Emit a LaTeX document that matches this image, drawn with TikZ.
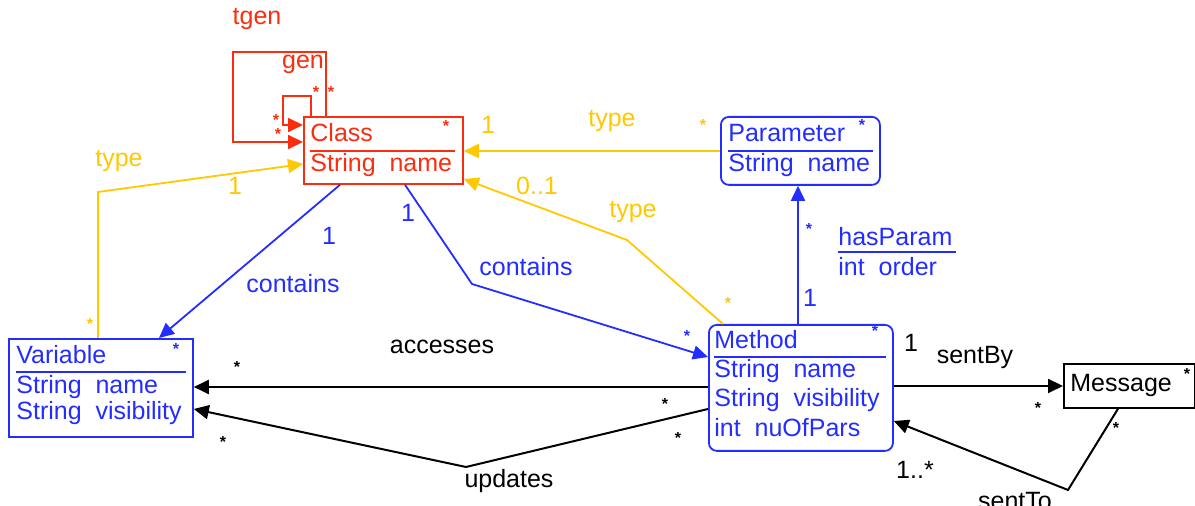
\documentclass[tikz,border=0pt]{standalone}
\usepackage{fontspec}
\setmainfont{Liberation Sans}
\usetikzlibrary{arrows.meta,positioning,calc}
\definecolor{umlred}{RGB}{250,45,15}
\definecolor{umlblue}{RGB}{35,45,255}
\definecolor{umlgold}{RGB}{255,200,0}
\tikzset{
  umlbox/.style={
    draw,
    line width=0.9pt,
    anchor=north west,
    inner sep=0pt
  },
  umltext/.style={anchor=base west,inner sep=0pt},
  umllabel/.style={inner sep=0pt},
  umlstar/.style={anchor=north,inner sep=0pt,font=\fontsize{8}{8}\bfseries},
  umlarrow/.style={-{Triangle[length=7.5pt,width=7pt]},line width=0.9pt}
}

\begin{document}
\begin{tikzpicture}[x=0.5pt,y=-0.5pt,font=\fontsize{12.5}{15}\selectfont]
  \useasboundingbox (0,0) rectangle (1195,506);

  % class boxes
  \node[umlbox,draw=umlred,minimum width=79.5pt,minimum height=33.5pt] (class) at (303,116) {};
  \node[umlbox,draw=umlblue,rounded corners=4pt,minimum width=79.5pt,minimum height=34pt] (param) at (720,116) {};
  \node[umlbox,draw=umlblue,minimum width=92pt,minimum height=49pt] (var) at (8,338) {};
  \node[umlbox,draw=umlblue,rounded corners=4pt,minimum width=92pt,minimum height=63pt] (method) at (708,324) {};
  \node[umlbox,draw=black,minimum width=65.5pt,minimum height=22pt] (message) at (1063,363) {};

  % class contents
  \node[umltext,text=umlred] (classname) at (310,142) {Class};
  \node[umltext,text=umlred] (classattr) at (310,172) {String~~name};
  \draw[umlred,line width=0.9pt] (310,151) -- (455,151);
  \node[umlstar,text=umlred] (classstar) at (446,120) {*};

  \node[umltext,text=umlblue] (paramname) at (728,142) {Parameter};
  \node[umltext,text=umlblue] (paramattr) at (728,172) {String~~name};
  \draw[umlblue,line width=0.9pt] (728,151) -- (873,151);
  \node[umlstar,text=umlblue] (paramstar) at (862,119) {*};

  \node[umltext,text=umlblue] (varname) at (16,364) {Variable};
  \node[umltext,text=umlblue] (varattra) at (16,394) {String~~name};
  \node[umltext,text=umlblue] (varattrb) at (16,420) {String~~visibility};
  \draw[umlblue,line width=0.9pt] (16,372) -- (186,372);
  \node[umlstar,text=umlblue] (varstar) at (176,343) {*};

  \node[umltext,text=umlblue] (methodname) at (714,349) {Method};
  \node[umltext,text=umlblue] (methodattra) at (714,378) {String~~name};
  \node[umltext,text=umlblue] (methodattrb) at (714,407) {String~~visibility};
  \node[umltext,text=umlblue] (methodattrc) at (714,437) {int~~nuOfPars};
  \draw[umlblue,line width=0.9pt] (714,357) -- (886,357);
  \node[umlstar,text=umlblue] (methodstar) at (875,325) {*};

  \node[umltext] (messagename) at (1070,392) {Message};
  \node[umlstar] (messagestar) at (1187,368) {*};

  % generalisation loops
  \node[umllabel,text=umlred] (tgen) at (257,19) {tgen};
  \node[umllabel,text=umlred] (gen) at (303,64) {gen};
  \draw[umlarrow,umlred] (class.north -| 326,0) |- (233,52) |- (class.west |- 0,142);
  \draw[umlarrow,umlred] (class.north -| 311,0) |- (283,96) |- (class.west |- 0,125);
  \node[umlstar,text=umlred] (gena) at (316,86) {*};
  \node[umlstar,text=umlred] (genb) at (331,86) {*};
  \node[umlstar,text=umlred] (genc) at (276,114) {*};
  \node[umlstar,text=umlred] (gend) at (278,128) {*};

  % type links
  \draw[umlarrow,umlgold] (param.west |- 0,151) -- (class.east |- 0,151);
  \node[umllabel,text=umlgold] (typea) at (612,121) {type};
  \node[umllabel,text=umlgold] (typeaone) at (488,125) {1};
  \node[umlstar,text=umlgold] (typeastar) at (703,119) {*};

  \draw[umlarrow,umlgold] (var.north -| 98,0) -- (98,192) -- (class.west |- 0,164);
  \node[umllabel,text=umlgold] (typeb) at (119,161) {type};
  \node[umllabel,text=umlgold] (typebone) at (235,186) {1};
  \node[umlstar,text=umlgold] (typebstar) at (90,318) {*};

  \draw[umlarrow,umlgold] (method.north -| 723,0) -- (627,240) -- (class.east |- 0,179);
  \node[umllabel,text=umlgold] (typec) at (633,212) {type};
  \node[umllabel,text=umlgold] (typecone) at (537,186) {0..1};
  \node[umlstar,text=umlgold] (typecstar) at (728,297) {*};

  % contains links
  \draw[umlarrow,umlblue] (class.south -| 340,0) -- (var.north -| 159,0);
  \node[umllabel,text=umlblue] (containsa) at (293,284) {contains};
  \node[umllabel,text=umlblue] (containsaone) at (329,236) {1};

  \draw[umlarrow,umlblue] (class.south -| 405,0) -- (472,284) -- (method.west |- 0,357);
  \node[umllabel,text=umlblue] (containsb) at (526,267) {contains};
  \node[umllabel,text=umlblue] (containsbone) at (408,213) {1};
  \node[umlstar,text=umlblue] (containsbstar) at (687,330) {*};

  % hasParam
  \draw[umlarrow,umlblue] (method.north -| 798,0) -- (param.south -| 798,0);
  \node[umlstar,text=umlblue] (hasstar) at (809,223) {*};
  \node[umllabel,text=umlblue] (hasone) at (810,298) {1};
  \node[umltext,text=umlblue] (hasparam) at (838,246) {hasParam};
  \node[umltext,text=umlblue] (hasorder) at (838,276) {int~~order};
  \draw[umlblue,line width=0.9pt] (838,252) -- (956,252);

  % accesses and updates
  \draw[umlarrow,line width=1pt] (method.west |- 0,387) -- (var.east |- 0,387);
  \node[umllabel] (accesses) at (442,347) {accesses};
  \node[umlstar] (accstara) at (237,361) {*};
  \node[umlstar] (accstarb) at (665,398) {*};

  \draw[umlarrow,line width=1pt] (method.west |- 0,409) -- (466,467) -- (var.east |- 0,409);
  \node[umllabel] (updates) at (509,481) {updates};
  \node[umlstar] (updstara) at (223,436) {*};
  \node[umlstar] (updstarb) at (678,432) {*};

  % messages
  \draw[umlarrow,line width=1pt] (method.east |- 0,386) -- (message.west |- 0,386);
  \node[umllabel] (sentbyone) at (911,343) {1};
  \node[umllabel] (sentby) at (975,358) {sentBy};
  \node[umlstar] (sentbystar) at (1038,402) {*};

  \draw[umlarrow,line width=1pt] (message.south -| 1118,0) -- (1068,490) -- (method.east |- 0,421);
  \node[umlstar] (senttostar) at (1116,422) {*};
  \node[umllabel] (senttomany) at (915,470) {1..*};
  \node[anchor=base,inner sep=0pt] (sentto) at (1015,510) {sentTo};
\end{tikzpicture}
\end{document}
